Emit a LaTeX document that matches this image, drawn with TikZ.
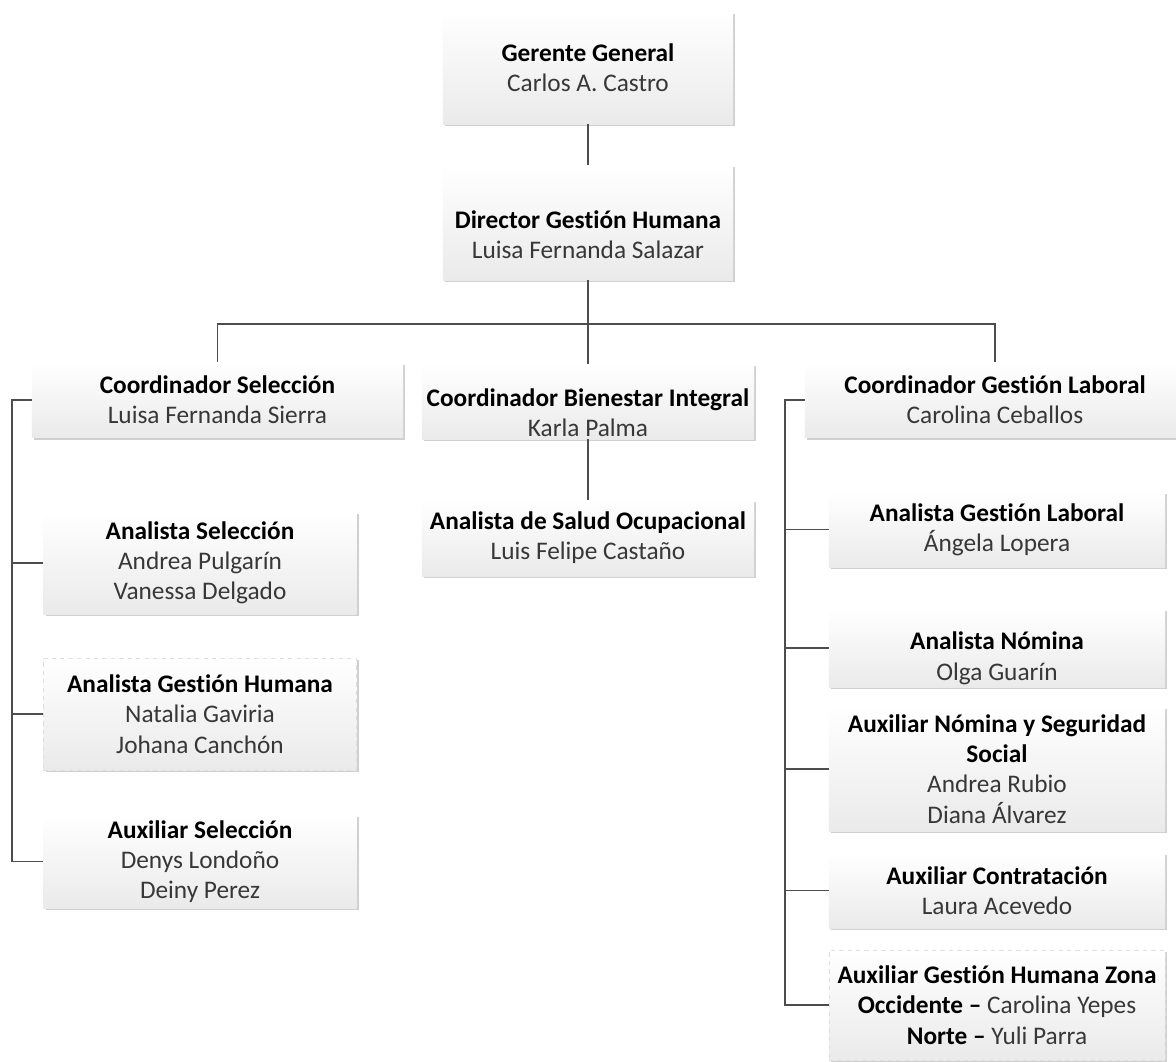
\documentclass[tikz,border=0pt]{standalone}
\usepackage{fontspec}
\setmainfont{Carlito}[Ligatures=NoCommon]
\usepackage{xcolor}
\usepackage{tikz}
\usetikzlibrary{positioning, calc, shadows}
\definecolor{linegray}{RGB}{77, 77, 77}
\definecolor{namegray}{RGB}{55, 55, 55}
\definecolor{boxbottom}{RGB}{234, 234, 234}
\definecolor{shadegray}{RGB}{208, 208, 208}
\newcommand{\nm}[1]{\textcolor{namegray}{#1}}
\newcommand{\lowered}[2]{\raisebox{-#1}[\height][\depth]{\begin{tabular}{@{}c@{}}#2\end{tabular}}}

\begin{document}
\begin{tikzpicture}[x=0.025cm, y=-0.025cm,
    orgbox/.style 2 args={rectangle, minimum width=#1, minimum height=#2, inner sep=2pt,
        align=center, top color=white, bottom color=boxbottom, draw=none,
        drop shadow={shadow xshift=1.6pt, shadow yshift=-1.6pt, fill=shadegray, opacity=1},
        font=\fontsize{18}{21.5}\selectfont, text=black},
    dashbox/.style={draw=gray!25, dashed},
    link/.style={draw=linegray, line width=0.8pt}]
    \path[use as bounding box, fill=white] (0,0) rectangle (1176,1061);

    % Top
    \node[orgbox={7.25cm}{2.8cm}] (gerente) at (588,68) {\textbf{Gerente General}\\ \nm{Carlos A. Castro}};
    \node[orgbox={7.25cm}{2.875cm}] (director) at (588,222.5) {\lowered{10.7pt}{\textbf{Director Gestión Humana}\\ \nm{Luisa Fernanda Salazar}}};

    % Coordinadores
    \node[orgbox={9.275cm}{1.875cm}] (coordSel) at (217.5,400) {\textbf{Coordinador Selección}\\ \nm{Luisa Fernanda Sierra}};
    \node[orgbox={8.3cm}{1.875cm}] (coordBien) at (588,401.5) {\lowered{10pt}{\textbf{Coordinador Bienestar Integral}\\ \nm{Karla Palma}}};
    \node[orgbox={9.5cm}{1.875cm}] (coordLab) at (995,400) {\textbf{Coordinador Gestión Laboral}\\ \nm{Carolina Ceballos}};

    % Selección
    \node[orgbox={7.825cm}{2.55cm}] (anaSel) at (200,563) {\textbf{Analista Selección}\\ \nm{Andrea Pulgarín}\\ \nm{Vanessa Delgado}};
    \node[orgbox={7.825cm}{2.8cm}, dashbox] (anaGH) at (200,714) {\textbf{Analista Gestión Humana}\\ \nm{Natalia Gaviria}\\ \nm{Johana Canchón}};
    \node[orgbox={7.825cm}{2.325cm}] (auxSel) at (200,861.5) {\textbf{Auxiliar Selección}\\ \nm{Denys Londoño}\\ \nm{Deiny Perez}};

    % Bienestar
    \node[orgbox={8.3cm}{1.9cm}] (anaSalud) at (588,538) {\textbf{Analista de Salud Ocupacional}\\ \nm{Luis Felipe Castaño}};

    % Gestión Laboral
    \node[orgbox={8.4cm}{1.875cm}] (anaGL) at (997,529.5) {\textbf{Analista Gestión Laboral}\\ \nm{Ángela Lopera}};
    \node[orgbox={8.4cm}{1.95cm}] (anaNom) at (997,648) {\lowered{7.8pt}{\textbf{Analista Nómina}\\ \nm{Olga Guarín}}};
    \node[orgbox={8.4cm}{3.1cm}] (auxNom) at (997,769) {\textbf{Auxiliar Nómina y Seguridad}\\ \textbf{Social}\\ \nm{Andrea Rubio}\\ \nm{Diana Álvarez}};
    \node[orgbox={8.4cm}{1.875cm}] (auxCon) at (997,890.5) {\textbf{Auxiliar Contratación}\\ \nm{Laura Acevedo}};
    \node[orgbox={8.4cm}{2.75cm}, dashbox] (auxZona) at (997,1005) {\textbf{Auxiliar Gestión Humana Zona}\\ \textbf{Occidente –} \nm{Carolina Yepes}\\ \textbf{Norte –} \nm{Yuli Parra}};

    % Connectors
    \coordinate (bus) at (588,324);
    \coordinate (selRail) at (12,400);
    \coordinate (labRail) at (785,400);
    \draw[link] (gerente) -- (director);
    \draw[link] (director) -- (bus);
    \draw[link] (coordSel.north) |- (bus) -| (coordLab.north);
    \draw[link] (bus) -- (coordBien.north);
    \draw[link] (coordBien) -- (anaSalud);
    \draw[link] (coordSel.west) -- (selRail) |- (auxSel.west);
    \foreach \n in {anaSel, anaGH}
        \draw[link] (\n.west) -- (\n.west -| selRail);
    \draw[link] (coordLab.west) -- (labRail) |- (auxZona.west);
    \foreach \n in {anaGL, anaNom, auxNom, auxCon}
        \draw[link] (\n.west) -- (\n.west -| labRail);
\end{tikzpicture}
\end{document}
